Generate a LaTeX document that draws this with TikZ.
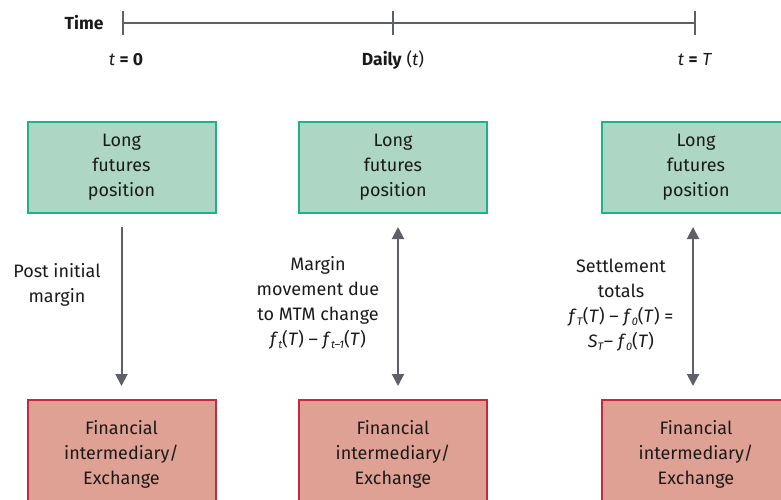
\documentclass[tikz,border=0pt]{standalone}
\usepackage{fontspec}
\setmainfont{Fira Sans}
\usetikzlibrary{arrows.meta}
\definecolor{gfill}{HTML}{AED6C4}
\definecolor{gdraw}{HTML}{1DB287}
\definecolor{rfill}{HTML}{E0A195}
\definecolor{rdraw}{HTML}{C52A3A}
\definecolor{ln}{HTML}{5E6067}
\definecolor{txt}{HTML}{1A1A1A}
\newcommand{\sbs}[1]{\raisebox{-0.35ex}{\fontsize{11}{11}\selectfont\textit{#1}}}
\tikzset{
  gbox/.style={draw=gdraw,fill=gfill,line width=2pt,minimum width=188pt,minimum height=91pt,align=center,font=\fontsize{18}{25}\selectfont,text=txt},
  rbox/.style={draw=rdraw,fill=rfill,line width=2pt,minimum width=188pt,minimum height=108pt,align=center,font=\fontsize{18}{25}\selectfont,text=txt},
  lbl/.style={align=center,font=\fontsize{18}{25}\selectfont,text=txt},
  tl/.style={font=\fontsize{17.5}{20}\selectfont,text=txt},
  flow/.style={draw=ln,line width=2pt,-{Triangle[width=12pt,length=12pt]}},
  flow2/.style={draw=ln,line width=2pt,{Triangle[width=12pt,length=12pt]}-{Triangle[width=12pt,length=12pt]}},
  axis/.style={draw=ln,line width=2.5pt}
}
\begin{document}
\begin{tikzpicture}[x=1pt,y=-1pt]
\useasboundingbox (0,0) rectangle (781,500);
\clip (0,0) rectangle (781,500);
% timeline
\coordinate (t0) at (123,23);
\coordinate (tm) at (393,23);
\coordinate (t1) at (695,23);
\draw[axis] (t0) -- (t1);
\draw[draw=ln,line width=2pt] ([yshift=-12pt]t0) -- ([yshift=12pt]t0);
\draw[draw=ln,line width=2pt] ([yshift=-12pt]tm) -- ([yshift=12pt]tm);
\draw[draw=ln,line width=2pt] ([yshift=-12pt]t1) -- ([yshift=12pt]t1);
\node[tl,anchor=east] (time) at (107,23) {\textbf{Time}};
\node[tl] (l0) at (126,60) {\textit{t} \textbf{= 0}};
\node[tl] (lm) at (393,60) {\textbf{Daily} (\textit{t})};
\node[tl] (l1) at (695,60) {\textit{t} \textbf{=} \textit{T}};
% boxes
\node[gbox] (g1) at (121.5,167.5) {Long\\futures\\position};
\node[gbox] (g2) at (393,167.5) {Long\\futures\\position};
\node[gbox] (g3) at (696,167.5) {Long\\futures\\position};
\node[rbox] (r1) at (121.5,454) {Financial\\intermediary/\\Exchange};
\node[rbox] (r2) at (393,454) {Financial\\intermediary/\\Exchange};
\node[rbox] (r3) at (696,454) {Financial\\intermediary/\\Exchange};
% connectors
\draw[flow,shorten <=13pt,shorten >=13pt] (g1.south) -- (r1.north);
\draw[flow2,shorten <=13pt,shorten >=13pt] ([xshift=5pt]g2.south) -- ([xshift=5pt]r2.north);
\draw[flow2,shorten <=13pt,shorten >=13pt] ([xshift=-3pt]g3.south) -- ([xshift=-3pt]r3.north);
% labels
\node[lbl] (p1) at (57,285) {Post initial\\margin};
\node[lbl] (p2) at (318,303) {Margin\\movement due\\to MTM change\\\textit{f}\sbs{t}(\textit{T}) – \textit{f}\sbs{t–1}(\textit{T})};
\node[lbl] (p3) at (621,305) {Settlement\\totals\\\textit{f}\sbs{T}(\textit{T}) – \textit{f}\sbs{0}(\textit{T}) =\\\textit{S}\sbs{T}– \textit{f}\sbs{0}(\textit{T})};
\end{tikzpicture}
\end{document}
